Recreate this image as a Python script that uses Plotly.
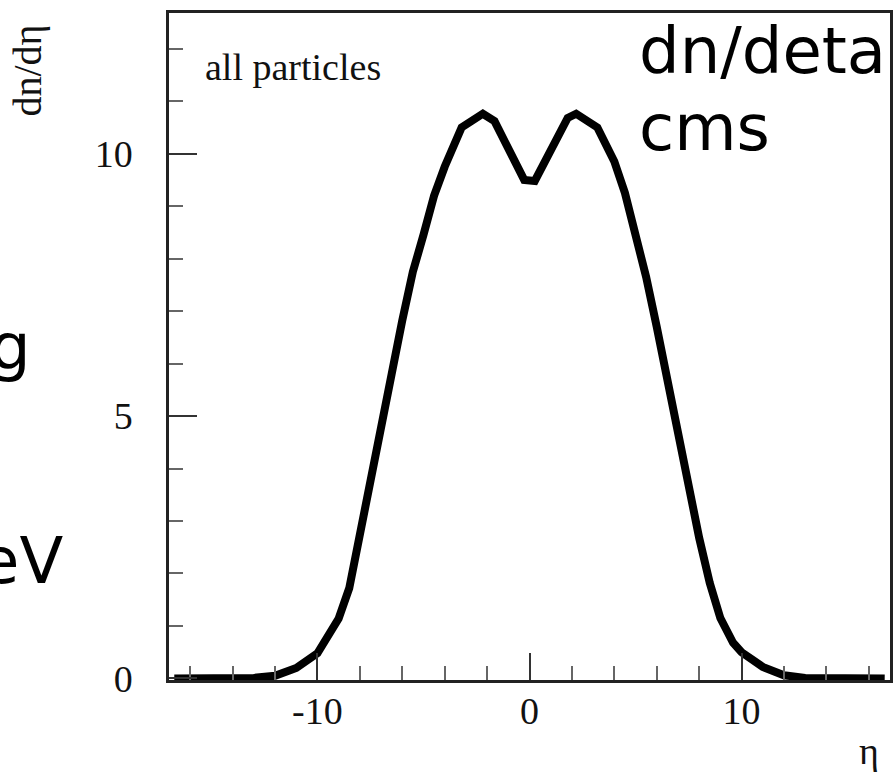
import plotly.graph_objects as go

# ---- data ----
eta = [-16.75, -14, -13, -12, -11, -10, -9.5, -9, -8.5, -8, -7.5, -7, -6.5, -6,
       -5.5, -5, -4.5, -4, -3.5, -3.2, -2.2, -1.65, -0.25, 0.25, 1.8, 2.2, 3.2,
       3.67, 4, 4.5, 5, 5.5, 6, 6.5, 7, 7.5, 8, 8.5, 9, 9.6, 10, 11, 12, 13, 14, 16.75]
dndeta = [0.0, 0.0, 0.01, 0.05, 0.2, 0.48, 0.78, 1.14, 1.72, 2.78, 3.85, 4.8, 5.8, 6.82,
          7.75, 8.45, 9.2, 9.75, 10.25, 10.5, 10.76, 10.62, 9.5, 9.48, 10.68, 10.76, 10.5,
          10.14, 9.85, 9.25, 8.5, 7.65, 6.7, 5.68, 4.65, 3.64, 2.68, 1.82, 1.15, 0.68,
          0.5, 0.22, 0.06, 0.01, 0.0, 0.0]

x_major_ticks = [-10, 0, 10]
y_major_ticks = [0, 5, 10]

W, H = 895, 773
L, R, T, B = 169, 2, 13, 93
PW, PH = W - L - R, H - T - B


def px(xp):
    return (xp - L) / PW


def py(yp):
    return (H - B - yp) / PH


serif = "Liberation Serif, Times New Roman, serif"
sans = "DejaVu Sans, sans-serif"

fig = go.Figure()
fig.add_trace(go.Scatter(x=eta, y=dndeta, mode="lines",
                         line=dict(color="black", width=8),
                         hoverinfo="skip", showlegend=False))

axis_common = dict(showgrid=False, zeroline=False, showline=True, mirror=True,
                   linecolor="#222", linewidth=2.5, ticks="inside",
                   tickcolor="#333", tickwidth=1.5,
                   tickfont=dict(family=serif, size=38, color="#111"))

fig.update_xaxes(range=[-17, 17], tickmode="array", tickvals=x_major_ticks,
                 ticktext=[str(v) for v in x_major_ticks], ticklen=27,
                 ticklabelstandoff=-4,
                 minor=dict(ticks="inside", dtick=2, tick0=0, ticklen=14,
                            tickcolor="#666", tickwidth=1.5),
                 **axis_common)
fig.update_yaxes(range=[-0.03, 12.68], tickmode="array", tickvals=y_major_ticks,
                 ticktext=[str(v) for v in y_major_ticks], ticklen=28,
                 ticklabelstandoff=26,
                 minor=dict(ticks="inside", dtick=1, tick0=0, ticklen=14,
                            tickcolor="#666", tickwidth=1.5),
                 **axis_common)

ann = []
ann.append(dict(text="all particles", x=px(203), y=py(67), xref="paper", yref="paper",
                xanchor="left", yanchor="middle", showarrow=False,
                font=dict(family=serif, size=38, color="#111")))
ann.append(dict(text="dn/deta", x=px(639), y=py(51), xref="paper", yref="paper",
                xanchor="left", yanchor="middle", showarrow=False,
                font=dict(family=sans, size=64, color="black")))
ann.append(dict(text="cms", x=px(639), y=py(128), xref="paper", yref="paper",
                xanchor="left", yanchor="middle", showarrow=False,
                font=dict(family=sans, size=64, color="black")))
ann.append(dict(text="g", x=px(32), y=py(347), xref="paper", yref="paper",
                xanchor="right", yanchor="middle", showarrow=False,
                font=dict(family=sans, size=64, color="black")))
ann.append(dict(text="eV", x=px(65), y=py(561), xref="paper", yref="paper",
                xanchor="right", yanchor="middle", showarrow=False,
                font=dict(family=sans, size=64, color="black")))
ann.append(dict(text="dn/dη", x=px(26), y=py(71), xref="paper", yref="paper",
                xanchor="center", yanchor="middle", showarrow=False, textangle=-90,
                font=dict(family=serif, size=40, color="#111")))
ann.append(dict(text="η", x=px(872), y=py(751), xref="paper", yref="paper",
                xanchor="center", yanchor="middle", showarrow=False,
                font=dict(family=serif, size=38, color="#111")))

fig.update_layout(width=W, height=H, autosize=False,
                  margin=dict(l=L, r=R, t=T, b=B, pad=0),
                  paper_bgcolor="white", plot_bgcolor="white",
                  annotations=ann, showlegend=False)

fig.write_html("out.html", config={"displayModeBar": False})
